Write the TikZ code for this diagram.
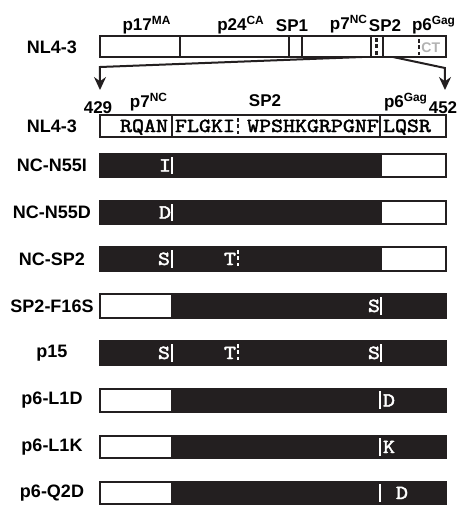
\documentclass[tikz,border=0pt]{standalone}
\usepackage{fontspec}
\setmainfont{Liberation Sans}
\newfontfamily\aafont{Latin Modern Mono}[FakeBold=2.2, FakeStretch=1.14]
\usetikzlibrary{arrows.meta}
\definecolor{ink}{HTML}{231F20}

\begin{document}
\begin{tikzpicture}[x=0.5pt, y=-0.5pt,
  lab/.style={font=\fontsize{9}{10}\selectfont\bfseries, inner sep=0pt},
  seg/.style={font=\fontsize{8.5}{10}\selectfont\bfseries, anchor=base, inner sep=0pt},
  aa/.style={font=\fontsize{10}{11}\selectfont\aafont, anchor=base, inner sep=0pt},
  mut/.style={aa, text=white},
  bar/.style={draw=ink, line width=1pt},
  cut/.style={draw=ink, line width=1pt},
  wcut/.style={draw=white, line width=1.2pt},
  dots/.style={line width=1.2pt, dash pattern=on 2pt off 1.2pt},
  zoomline/.style={draw=ink, line width=1pt, -{Stealth[length=6.5pt, width=6pt]}},
]
\useasboundingbox (0,0) rectangle (459,505);

% Full Gag
\node[lab] (wt) at (52,47) {NL4-3};
\draw[bar] (100,36) rectangle (446,57);
\foreach \x in {180,289,302,371,383} \draw[cut] (\x,36) -- (\x,57);
\draw[cut, dots] (376.5,38) -- (376.5,56);
\draw[cut, dots] (419,39) -- (419,55);
\node[anchor=west, inner sep=0pt, text=gray!60, font=\fontsize{7}{8}\selectfont\bfseries] (ct) at (421,48) {CT};
\node[seg] (p17) at (147,30) {p17\textsuperscript{MA}};
\node[seg] (p24) at (241,30) {p24\textsuperscript{CA}};
\node[seg] (sp1) at (292,31) {SP1};
\node[seg] (p7) at (349,29) {p7\textsuperscript{NC}};
\node[seg] (sp2) at (385,31) {SP2};
\node[seg] (p6) at (434,30) {p6\textsuperscript{Gag}};

% Zoom arrows
\coordinate (zl) at (362,57);
\coordinate (zlb) at (100,67);
\coordinate (zle) at (100,90);
\coordinate (zr) at (393,57);
\coordinate (zrb) at (445,68);
\coordinate (zre) at (445,90);
\draw[zoomline] (zl) -- (zlb) -- (zle);
\draw[zoomline] (zr) -- (zrb) -- (zre);
\node[seg] (n429) at (98,113) {429};
\node[seg] (n452) at (443,113) {452};
\node[seg] (zp7) at (149,107) {p7\textsuperscript{NC}};
\node[seg] (zsp2) at (265,106) {SP2};
\node[seg] (zp6) at (406,107) {p6\textsuperscript{Gag}};

% Zoomed sequence
\node[lab] (wtz) at (52,126) {NL4-3};
\draw[bar] (100,115) rectangle (446,137);
\draw[cut] (172,115) -- (172,137);
\draw[cut] (380,115) -- (380,137);
\draw[cut, dots] (238,118) -- (238,134);
\node[aa] (s1) at (144,132) {RQAN};
\node[aa] (s2) at (205,132) {FLGKI};
\node[aa] (s3) at (313,132) {WPSHKGRPGNF};
\node[aa] (s4) at (407,132) {LQSR};

% NC-N55I
\node[lab] (r1) at (52,165.5) {NC-N55I};
\fill[ink] (100,154) rectangle (382,177);
\draw[bar] (100,154) rectangle (446,177);
\node[mut] (m1) at (165,171.5) {I};
\draw[wcut] (172,157) -- (172,174);

% NC-N55D
\node[lab] (r2) at (52,212.5) {NC-N55D};
\fill[ink] (100,201) rectangle (382,224);
\draw[bar] (100,201) rectangle (446,224);
\node[mut] (m2) at (165,218.5) {D};
\draw[wcut] (172,204) -- (172,221);

% NC-SP2
\node[lab] (r3) at (52,259) {NC-SP2};
\fill[ink] (100,247) rectangle (382,271);
\draw[bar] (100,247) rectangle (446,271);
\node[mut] (m3a) at (164,265) {S};
\draw[wcut] (172,250) -- (172,268);
\node[mut] (m3b) at (230,265) {T};
\draw[wcut, dots] (238,250) -- (238,266);

% SP2-F16S
\node[lab] (r4) at (52,306) {SP2-F16S};
\fill[ink] (171,294) rectangle (446,318);
\draw[bar] (100,294) rectangle (446,318);
\node[mut] (m4) at (374,312) {S};
\draw[wcut] (381,297) -- (381,315);

% p15
\node[lab] (r5) at (52,353) {p15};
\fill[ink] (100,341) rectangle (446,365);
\draw[bar] (100,341) rectangle (446,365);
\node[mut] (m5a) at (164,359) {S};
\draw[wcut] (172,344) -- (172,362);
\node[mut] (m5b) at (230,359) {T};
\draw[wcut, dots] (238,344) -- (238,360);
\node[mut] (m5c) at (374,359) {S};
\draw[wcut] (381,344) -- (381,362);

% p6-L1D
\node[lab] (r6) at (52,400.5) {p6-L1D};
\fill[ink] (171,389) rectangle (446,412);
\draw[bar] (100,389) rectangle (446,412);
\draw[wcut] (380,391) -- (380,409);
\node[mut] (m6) at (389,406.5) {D};

% p6-L1K
\node[lab] (r7) at (52,447) {p6-L1K};
\fill[ink] (171,436) rectangle (446,458);
\draw[bar] (100,436) rectangle (446,458);
\draw[wcut] (380,438) -- (380,456);
\node[mut] (m7) at (389,453) {K};

% p6-Q2D
\node[lab] (r8) at (52,493) {p6-Q2D};
\fill[ink] (171,482) rectangle (446,504);
\draw[bar] (100,482) rectangle (446,504);
\draw[wcut] (380,484) -- (380,502);
\node[mut] (m8) at (402,499) {D};
\end{tikzpicture}
\end{document}
